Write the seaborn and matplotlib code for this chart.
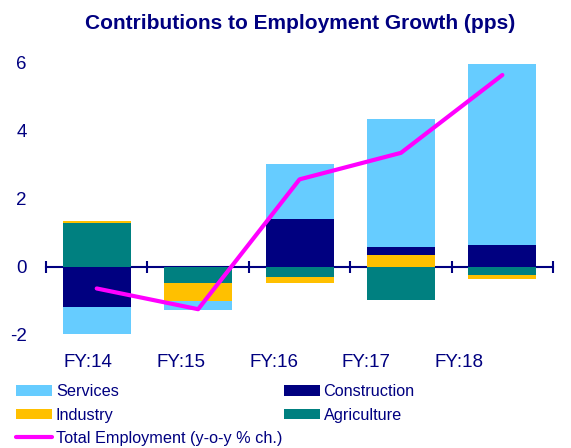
import numpy as np
import matplotlib
matplotlib.use("Agg")
import matplotlib.pyplot as plt
import seaborn as sns

# data (pps)
years = ["FY:14", "FY:15", "FY:16", "FY:17", "FY:18"]
agriculture = [1.29, -0.49, -0.29, -0.98, -0.24]
industry = [0.05, -0.52, -0.18, 0.34, -0.11]
construction = [-1.19, 0.0, 1.40, 0.23, 0.64]
services = [-0.79, -0.26, 1.62, 3.77, 5.32]
total_emp = [-0.64, -1.25, 2.57, 3.35, 5.64]

navy = "#000080"
colors = {"Agriculture": "#008080", "Industry": "#FFC000",
          "Construction": "#000080", "Services": "#66CCFF"}

sns.set_style("white")
plt.rcParams["font.family"] = ["Liberation Sans", "DejaVu Sans"]
plt.rcParams["axes.unicode_minus"] = False

fig = plt.figure(figsize=(5.71, 4.48), dpi=100)
ax = fig.add_axes([0.0806, 0.2529, 0.888, 0.607])

# stack positives and negatives separately, Excel style
series = {"Agriculture": agriculture, "Industry": industry,
          "Construction": construction, "Services": services}
pos_base = np.zeros(len(years))
neg_base = np.zeros(len(years))
for name, vals in series.items():
    vals = np.array(vals)
    bottom = np.where(vals >= 0, pos_base, neg_base)
    sns.barplot(x=years, y=vals, bottom=bottom, color=colors[name],
                saturation=1, width=0.67, ax=ax, label=name, linewidth=0)
    pos_base = pos_base + np.clip(vals, 0, None)
    neg_base = neg_base + np.clip(vals, None, 0)

sns.lineplot(x=np.arange(len(years)), y=total_emp, color="#FF00FF",
             linewidth=3, ax=ax, label="Total Employment (y-o-y % ch.)")

handles, labels = ax.get_legend_handles_labels()
if ax.get_legend() is not None:
    ax.get_legend().remove()

ax.set_xlim(-0.5, len(years) - 0.5)
ax.set_ylim(-2, 6)
ax.set_yticks([-2, 0, 2, 4, 6])
ax.set_xlabel("")
ax.set_ylabel("")
for s in ax.spines.values():
    s.set_visible(False)

# category labels sit a bit left of the bars in the original
label_pos = np.arange(len(years)) * 0.915 - 0.085
ax.set_xticks(label_pos)
ax.set_xticklabels(years)
ax.tick_params(axis="both", length=0, labelsize=13.5, labelcolor=navy)
ax.tick_params(axis="x", pad=14)
ax.tick_params(axis="y", pad=14)

# axis line through zero with boundary ticks
zero_ax = ax.secondary_xaxis(0, transform=ax.transData)
zero_ax.spines["bottom"].set_color(navy)
zero_ax.spines["bottom"].set_linewidth(1.5)
zero_ax.set_xticks(np.arange(len(years) + 1) - 0.5)
zero_ax.tick_params(direction="inout", length=9, width=1.5, color=navy,
                    labelbottom=False)

fig.suptitle("Contributions to Employment Growth (pps)", x=0.525, y=0.968,
             fontsize=15, fontweight="bold", color=navy)

hmap = dict(zip(labels, handles))
order = ["Services", "Industry", "Total Employment (y-o-y % ch.)",
         "Construction", "Agriculture"]
leg = fig.legend([hmap[k] for k in order], order, ncol=2, loc="upper left",
                 bbox_to_anchor=(0.028, 0.142), frameon=False, fontsize=11.7,
                 handlelength=2.2, handleheight=0.6, handletextpad=0.25,
                 columnspacing=0.1, labelspacing=0.5, borderpad=0,
                 borderaxespad=0)
for t in leg.get_texts():
    t.set_color(navy)

fig.savefig("out.png", dpi=100)
